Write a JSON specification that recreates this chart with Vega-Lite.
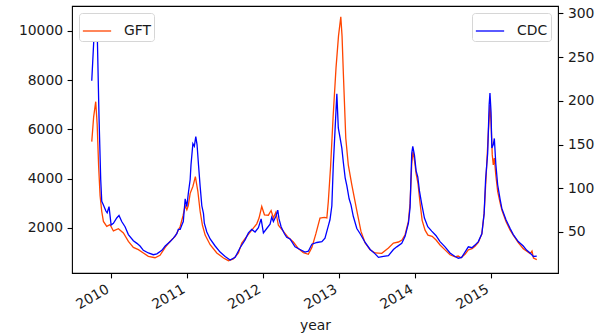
{
  "$schema": "https://vega.github.io/schema/vega-lite/v6.json",
  "width": 486,
  "height": 267,
  "autosize": {"type": "none"},
  "padding": {"left": 72, "top": 6, "right": 48, "bottom": 63},
  "background": "white",
  "datasets": {
    "gft": [
      {"date": "2009-09-30", "value": 5500}, {"date": "2009-10-09", "value": 6500}, {"date": "2009-10-19", "value": 7124},
      {"date": "2009-10-26", "value": 6200}, {"date": "2009-11-02", "value": 4500}, {"date": "2009-11-09", "value": 3300},
      {"date": "2009-11-17", "value": 2661}, {"date": "2009-11-25", "value": 2256}, {"date": "2009-12-11", "value": 2053},
      {"date": "2009-12-27", "value": 2122}, {"date": "2010-01-12", "value": 1870}, {"date": "2010-02-05", "value": 1960},
      {"date": "2010-03-01", "value": 1785}, {"date": "2010-03-25", "value": 1444}, {"date": "2010-04-18", "value": 1200},
      {"date": "2010-05-12", "value": 1108}, {"date": "2010-06-05", "value": 973}, {"date": "2010-06-29", "value": 836},
      {"date": "2010-07-31", "value": 780}, {"date": "2010-08-24", "value": 880}, {"date": "2010-09-18", "value": 1200},
      {"date": "2010-10-12", "value": 1450}, {"date": "2010-11-05", "value": 1650}, {"date": "2010-11-29", "value": 2053},
      {"date": "2010-12-13", "value": 2500}, {"date": "2010-12-23", "value": 2900}, {"date": "2010-12-31", "value": 2730},
      {"date": "2011-01-07", "value": 2900}, {"date": "2011-01-16", "value": 3400}, {"date": "2011-01-29", "value": 3676},
      {"date": "2011-02-10", "value": 4081}, {"date": "2011-02-22", "value": 3473}, {"date": "2011-03-05", "value": 2661},
      {"date": "2011-03-16", "value": 2100}, {"date": "2011-03-29", "value": 1700}, {"date": "2011-04-22", "value": 1310},
      {"date": "2011-05-24", "value": 974}, {"date": "2011-06-25", "value": 771}, {"date": "2011-07-19", "value": 661},
      {"date": "2011-08-12", "value": 730}, {"date": "2011-09-05", "value": 974}, {"date": "2011-09-21", "value": 1379},
      {"date": "2011-10-15", "value": 1647}, {"date": "2011-11-08", "value": 1900}, {"date": "2011-12-02", "value": 2160},
      {"date": "2011-12-13", "value": 2394}, {"date": "2011-12-26", "value": 2864}, {"date": "2012-01-08", "value": 2527},
      {"date": "2012-01-27", "value": 2510}, {"date": "2012-02-09", "value": 2700}, {"date": "2012-02-20", "value": 2394},
      {"date": "2012-03-03", "value": 2630}, {"date": "2012-03-15", "value": 2100}, {"date": "2012-04-08", "value": 1850},
      {"date": "2012-05-02", "value": 1600}, {"date": "2012-05-26", "value": 1420}, {"date": "2012-06-19", "value": 1150},
      {"date": "2012-07-13", "value": 990}, {"date": "2012-08-06", "value": 920}, {"date": "2012-08-23", "value": 1200},
      {"date": "2012-09-11", "value": 1750}, {"date": "2012-10-01", "value": 2394}, {"date": "2012-10-22", "value": 2418},
      {"date": "2012-11-03", "value": 2400}, {"date": "2012-11-10", "value": 3067}, {"date": "2012-11-21", "value": 4500},
      {"date": "2012-12-03", "value": 6500}, {"date": "2012-12-17", "value": 8500}, {"date": "2012-12-29", "value": 9800},
      {"date": "2013-01-09", "value": 10573}, {"date": "2013-01-15", "value": 9800}, {"date": "2013-01-21", "value": 8341},
      {"date": "2013-02-02", "value": 5640}, {"date": "2013-02-14", "value": 4556}, {"date": "2013-03-03", "value": 3745},
      {"date": "2013-03-27", "value": 2700}, {"date": "2013-04-16", "value": 1850}, {"date": "2013-05-06", "value": 1379},
      {"date": "2013-05-30", "value": 1108}, {"date": "2013-06-23", "value": 974}, {"date": "2013-07-25", "value": 960},
      {"date": "2013-08-26", "value": 1177}, {"date": "2013-09-19", "value": 1379}, {"date": "2013-10-13", "value": 1420},
      {"date": "2013-10-30", "value": 1500}, {"date": "2013-11-14", "value": 1716}, {"date": "2013-11-30", "value": 2256},
      {"date": "2013-12-08", "value": 3000}, {"date": "2013-12-16", "value": 4600}, {"date": "2013-12-22", "value": 5100},
      {"date": "2013-12-30", "value": 4700}, {"date": "2014-01-06", "value": 4200}, {"date": "2014-01-15", "value": 3800},
      {"date": "2014-01-25", "value": 3000}, {"date": "2014-02-04", "value": 2300}, {"date": "2014-02-18", "value": 1900},
      {"date": "2014-03-04", "value": 1700}, {"date": "2014-03-24", "value": 1650}, {"date": "2014-04-12", "value": 1500},
      {"date": "2014-05-01", "value": 1300}, {"date": "2014-05-25", "value": 1100}, {"date": "2014-06-18", "value": 900},
      {"date": "2014-07-12", "value": 820}, {"date": "2014-07-27", "value": 850}, {"date": "2014-08-10", "value": 780},
      {"date": "2014-08-29", "value": 920}, {"date": "2014-09-14", "value": 1100}, {"date": "2014-10-02", "value": 1150},
      {"date": "2014-10-16", "value": 1250}, {"date": "2014-11-01", "value": 1400}, {"date": "2014-11-18", "value": 1750},
      {"date": "2014-11-29", "value": 2600}, {"date": "2014-12-08", "value": 4000}, {"date": "2014-12-20", "value": 6000},
      {"date": "2014-12-27", "value": 6990}, {"date": "2015-01-01", "value": 6313}, {"date": "2015-01-07", "value": 4962},
      {"date": "2015-01-12", "value": 4556}, {"date": "2015-01-17", "value": 4828}, {"date": "2015-01-24", "value": 4150},
      {"date": "2015-02-02", "value": 3473}, {"date": "2015-02-14", "value": 3000}, {"date": "2015-02-23", "value": 2700},
      {"date": "2015-03-14", "value": 2250}, {"date": "2015-04-03", "value": 1900}, {"date": "2015-04-18", "value": 1700},
      {"date": "2015-05-12", "value": 1400}, {"date": "2015-06-05", "value": 1150}, {"date": "2015-06-22", "value": 1050},
      {"date": "2015-07-08", "value": 950}, {"date": "2015-07-17", "value": 1050}, {"date": "2015-07-24", "value": 771},
      {"date": "2015-08-09", "value": 702}
    ],
    "cdc": [
      {"date": "2009-09-30", "value": 223}, {"date": "2009-10-11", "value": 275}, {"date": "2009-10-19", "value": 294},
      {"date": "2009-10-27", "value": 270}, {"date": "2009-11-04", "value": 180}, {"date": "2009-11-12", "value": 110},
      {"date": "2009-11-17", "value": 85}, {"date": "2009-11-25", "value": 81}, {"date": "2009-12-07", "value": 74},
      {"date": "2009-12-13", "value": 72}, {"date": "2009-12-22", "value": 79}, {"date": "2010-01-01", "value": 58},
      {"date": "2010-01-12", "value": 60}, {"date": "2010-01-28", "value": 66}, {"date": "2010-02-08", "value": 69},
      {"date": "2010-02-21", "value": 62}, {"date": "2010-03-09", "value": 56}, {"date": "2010-03-25", "value": 47},
      {"date": "2010-04-18", "value": 40}, {"date": "2010-05-05", "value": 37}, {"date": "2010-05-20", "value": 34},
      {"date": "2010-06-05", "value": 29}, {"date": "2010-06-29", "value": 26}, {"date": "2010-07-23", "value": 24},
      {"date": "2010-08-09", "value": 25}, {"date": "2010-09-02", "value": 29}, {"date": "2010-09-18", "value": 34},
      {"date": "2010-10-12", "value": 39}, {"date": "2010-10-27", "value": 43}, {"date": "2010-11-13", "value": 48},
      {"date": "2010-11-20", "value": 53}, {"date": "2010-11-29", "value": 53}, {"date": "2010-12-07", "value": 58},
      {"date": "2010-12-14", "value": 62}, {"date": "2010-12-23", "value": 88}, {"date": "2010-12-31", "value": 79},
      {"date": "2011-01-07", "value": 94}, {"date": "2011-01-16", "value": 110}, {"date": "2011-01-20", "value": 127},
      {"date": "2011-01-29", "value": 151}, {"date": "2011-02-05", "value": 148}, {"date": "2011-02-12", "value": 159},
      {"date": "2011-02-18", "value": 150}, {"date": "2011-02-25", "value": 127}, {"date": "2011-03-05", "value": 102},
      {"date": "2011-03-13", "value": 80}, {"date": "2011-03-21", "value": 71}, {"date": "2011-03-25", "value": 60},
      {"date": "2011-04-06", "value": 50}, {"date": "2011-04-22", "value": 42}, {"date": "2011-05-16", "value": 34},
      {"date": "2011-06-09", "value": 27}, {"date": "2011-07-03", "value": 22}, {"date": "2011-07-27", "value": 18},
      {"date": "2011-08-20", "value": 21}, {"date": "2011-09-13", "value": 32}, {"date": "2011-10-07", "value": 41},
      {"date": "2011-10-23", "value": 49}, {"date": "2011-11-08", "value": 53}, {"date": "2011-11-24", "value": 50},
      {"date": "2011-12-10", "value": 55}, {"date": "2011-12-23", "value": 65}, {"date": "2012-01-03", "value": 49},
      {"date": "2012-01-19", "value": 54}, {"date": "2012-02-04", "value": 59}, {"date": "2012-02-12", "value": 67},
      {"date": "2012-02-20", "value": 62}, {"date": "2012-03-03", "value": 68}, {"date": "2012-03-12", "value": 75},
      {"date": "2012-03-18", "value": 65}, {"date": "2012-03-28", "value": 56}, {"date": "2012-04-13", "value": 48},
      {"date": "2012-04-24", "value": 44}, {"date": "2012-05-10", "value": 42}, {"date": "2012-06-03", "value": 33},
      {"date": "2012-06-27", "value": 30}, {"date": "2012-07-21", "value": 27}, {"date": "2012-08-06", "value": 28},
      {"date": "2012-08-23", "value": 36}, {"date": "2012-09-16", "value": 38}, {"date": "2012-10-10", "value": 39},
      {"date": "2012-10-25", "value": 43}, {"date": "2012-11-10", "value": 57}, {"date": "2012-11-18", "value": 64},
      {"date": "2012-11-27", "value": 80}, {"date": "2012-12-04", "value": 127}, {"date": "2012-12-12", "value": 165},
      {"date": "2012-12-21", "value": 208}, {"date": "2012-12-28", "value": 169}, {"date": "2013-01-06", "value": 157},
      {"date": "2013-01-14", "value": 146}, {"date": "2013-01-21", "value": 130}, {"date": "2013-01-30", "value": 112},
      {"date": "2013-02-07", "value": 103}, {"date": "2013-02-18", "value": 88}, {"date": "2013-02-27", "value": 81},
      {"date": "2013-03-10", "value": 68}, {"date": "2013-03-27", "value": 54}, {"date": "2013-04-12", "value": 48},
      {"date": "2013-05-06", "value": 38}, {"date": "2013-05-30", "value": 30}, {"date": "2013-06-23", "value": 25},
      {"date": "2013-07-09", "value": 21}, {"date": "2013-08-02", "value": 22}, {"date": "2013-08-26", "value": 23},
      {"date": "2013-09-19", "value": 30}, {"date": "2013-10-05", "value": 33}, {"date": "2013-10-29", "value": 37},
      {"date": "2013-11-14", "value": 45}, {"date": "2013-11-30", "value": 60}, {"date": "2013-12-08", "value": 78},
      {"date": "2013-12-16", "value": 140}, {"date": "2013-12-21", "value": 148}, {"date": "2013-12-29", "value": 138},
      {"date": "2014-01-06", "value": 120}, {"date": "2014-01-14", "value": 113}, {"date": "2014-01-22", "value": 97},
      {"date": "2014-02-02", "value": 82}, {"date": "2014-02-15", "value": 66}, {"date": "2014-03-03", "value": 56},
      {"date": "2014-03-22", "value": 51}, {"date": "2014-04-11", "value": 46}, {"date": "2014-05-01", "value": 39},
      {"date": "2014-05-25", "value": 33}, {"date": "2014-06-18", "value": 26}, {"date": "2014-07-12", "value": 22},
      {"date": "2014-07-28", "value": 20}, {"date": "2014-08-13", "value": 21}, {"date": "2014-08-29", "value": 27},
      {"date": "2014-09-14", "value": 33}, {"date": "2014-10-01", "value": 32}, {"date": "2014-10-16", "value": 35},
      {"date": "2014-11-01", "value": 39}, {"date": "2014-11-18", "value": 48}, {"date": "2014-11-29", "value": 71},
      {"date": "2014-12-06", "value": 110}, {"date": "2014-12-16", "value": 140}, {"date": "2014-12-23", "value": 195},
      {"date": "2014-12-27", "value": 209}, {"date": "2015-01-01", "value": 188}, {"date": "2015-01-05", "value": 146},
      {"date": "2015-01-12", "value": 150}, {"date": "2015-01-17", "value": 157}, {"date": "2015-01-24", "value": 128},
      {"date": "2015-02-02", "value": 104}, {"date": "2015-02-14", "value": 87}, {"date": "2015-02-22", "value": 77},
      {"date": "2015-03-14", "value": 64}, {"date": "2015-04-03", "value": 54}, {"date": "2015-04-18", "value": 47},
      {"date": "2015-05-12", "value": 39}, {"date": "2015-06-05", "value": 34}, {"date": "2015-06-22", "value": 29},
      {"date": "2015-07-08", "value": 26}, {"date": "2015-07-24", "value": 22}, {"date": "2015-08-09", "value": 22.5}
    ]
  },
  "encoding": {
    "x": {
      "field": "date",
      "type": "temporal",
      "title": "year",
      "scale": {
        "type": "utc",
        "domain": [
          {"year": 2009, "month": 6, "date": 27, "utc": true},
          {"year": 2015, "month": 11, "date": 19, "utc": true}
        ]
      },
      "axis": {
        "values": [
          {"year": 2010, "month": 1, "date": 1, "utc": true},
          {"year": 2011, "month": 1, "date": 1, "utc": true},
          {"year": 2012, "month": 1, "date": 1, "utc": true},
          {"year": 2013, "month": 1, "date": 1, "utc": true},
          {"year": 2014, "month": 1, "date": 1, "utc": true},
          {"year": 2015, "month": 1, "date": 1, "utc": true}
        ],
        "format": "%Y",
        "formatType": "utc",
        "labelAngle": -30,
        "labelAlign": "right",
        "labelBaseline": "top",
        "labelOffset": -7,
        "labelPadding": 4,
        "titlePadding": 7
      }
    }
  },
  "layer": [
    {
      "data": {"name": "gft"},
      "mark": {"type": "line", "strokeWidth": 1.3, "interpolate": "linear"},
      "encoding": {
        "y": {
          "field": "value",
          "type": "quantitative",
          "scale": {"domain": [160, 11015], "nice": false, "zero": false},
          "axis": {"orient": "left", "values": [2000, 4000, 6000, 8000, 10000], "format": "d", "title": null}
        },
        "color": {
          "datum": "GFT",
          "scale": {"range": ["#ff4500"]},
          "legend": {"orient": "top-left"}
        }
      }
    },
    {
      "data": {"name": "cdc"},
      "mark": {"type": "line", "strokeWidth": 1.3, "interpolate": "linear"},
      "encoding": {
        "y": {
          "field": "value",
          "type": "quantitative",
          "scale": {"domain": [3.1, 308.5], "nice": false, "zero": false},
          "axis": {"orient": "right", "values": [50, 100, 150, 200, 250, 300], "format": "d", "title": null}
        },
        "color": {
          "datum": "CDC",
          "scale": {"range": ["#0000ff"]},
          "legend": {"orient": "top-right"}
        }
      }
    }
  ],
  "resolve": {
    "scale": {"y": "independent", "color": "independent"},
    "legend": {"color": "independent"}
  },
  "config": {
    "font": "DejaVu Sans",
    "view": {"stroke": "#000000", "strokeWidth": 1.1},
    "axis": {
      "grid": false,
      "domain": false,
      "tickColor": "#000000",
      "tickWidth": 1.1,
      "tickSize": 4.9,
      "labelPadding": 4.5,
      "labelFont": "DejaVu Sans",
      "labelFontSize": 13.9,
      "labelColor": "#1a1a1a",
      "titleFont": "DejaVu Sans",
      "titleFontSize": 13.9,
      "titleFontWeight": "normal",
      "titleColor": "#1a1a1a"
    },
    "legend": {
      "title": null,
      "offset": 7,
      "symbolType": "stroke",
      "symbolSize": 800,
      "symbolStrokeWidth": 1.3,
      "labelFont": "DejaVu Sans",
      "labelFontSize": 13.9,
      "labelColor": "#1a1a1a",
      "labelOffset": 12,
      "fillColor": "white",
      "strokeColor": "#d6d6d6",
      "cornerRadius": 3,
      "padding": 3
    }
  }
}
